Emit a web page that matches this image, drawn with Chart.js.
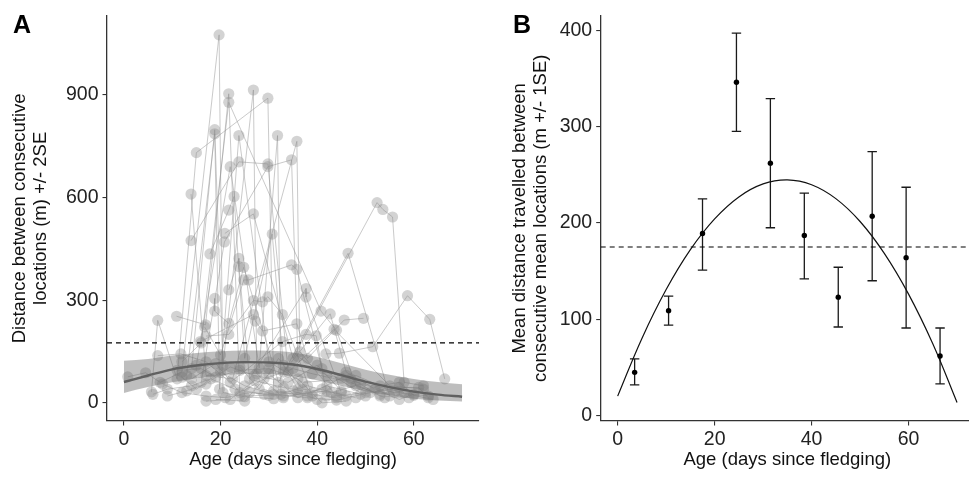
<!DOCTYPE html>
<html><head><meta charset="utf-8">
<script src="https://cdn.jsdelivr.net/npm/chart.js@4.4.1/dist/chart.umd.min.js"></script>
<style>
html,body{margin:0;padding:0;background:#fff;overflow:hidden;width:969px;height:482px;}
#wrapA{position:absolute;left:0;top:0;width:490px;height:482px;}
#wrapB{position:absolute;left:500px;top:0;width:480px;height:482px;}
.lbl{position:absolute;font:bold 25px "Liberation Sans",Arial,sans-serif;line-height:25px;color:#000;}
</style></head><body>
<div id="wrapA"><canvas id="cA" width="490" height="482"></canvas></div>
<div id="wrapB"><canvas id="cB" width="480" height="482"></canvas></div>
<div class="lbl" style="left:13px;top:12px">A</div>
<div class="lbl" style="left:513px;top:12px">B</div>
<script>
// ---------- Panel A data ----------
const xTicks = [0, 20, 40, 60];
const yTicksA = [0, 300, 600, 900];
const yTicksB = [0, 100, 200, 300, 400];
const thresholdDist = 175;

const birdAges = [
  [0.8, 4.5, 7.5, 12, 19.7, 20.5, 25, 31],
  [5.7, 7, 11, 15, 29.8, 31, 38],
  [10.9, 16.9, 21.7, 24, 30, 36, 44],
  [12, 16, 21.7, 40.8, 44, 48, 53],
  [14, 18.8, 20.5, 26.8, 27.5, 33, 41],
  [13, 18.8, 19.8, 23.8, 30, 37, 47],
  [15, 22, 28, 31.8, 32.5, 38, 46],
  [13.9, 17, 22.5, 35.8, 36.4, 44, 50],
  [13.9, 23.8, 29.8, 34, 43.5, 55, 62],
  [16, 20.8, 29.8, 34.7, 36, 42, 58],
  [17.8, 21.7, 22.8, 25, 30.7, 33, 36],
  [20.9, 26.8, 35, 52.4, 53.6, 55.6, 58, 62],
  [18.8, 18.8, 21.7, 24.8, 32, 46.4, 55],
  [21.7, 23.8, 23.8, 26, 37.7, 37.7, 45],
  [16.7, 20, 24.8, 25.8, 34.7, 35.8, 41, 50],
  [17, 21.7, 26.8, 28.7, 29.8, 32.8, 39],
  [15.8, 26.8, 27.2, 28.7, 35.8, 38, 45.6, 49.6],
  [7, 11.8, 17, 22, 32.8, 37.7, 39.8, 42],
  [41.8, 44.6, 51.5, 58.7, 63.3, 66.4],
  [33, 42.7, 46, 52, 57, 60],
  [8, 12, 17, 21, 26, 33, 42, 48],
  [6, 9, 14, 18, 23, 29, 35, 40],
  [11, 16, 19, 24, 30, 36, 41, 46],
  [12, 15, 20, 25, 31, 38, 44, 51],
  [9, 13, 17, 22, 27, 34, 40, 45],
  [14, 19, 24, 29, 35, 39, 47, 54],
  [17, 22, 27, 33, 39, 46, 53, 59],
  [24, 28, 32, 37, 43, 49, 56, 63],
  [19, 25, 30, 36, 42, 49, 57, 61, 63],
  [45, 48, 53, 57, 60, 64]
];
const birdDistances = [
  [76, 88, 60, 90, 1075, 30, 18, 12],
  [32, 241, 70, 731, 890, 35, 20],
  [253, 228, 903, 20, 22, 30, 15],
  [120, 175, 878, 268, 212, 50, 25],
  [100, 798, 110, 914, 85, 15, 40],
  [80, 786, 40, 781, 120, 60, 70],
  [110, 690, 102, 781, 25, 50, 20],
  [610, 80, 70, 764, 150, 20, 30],
  [474, 704, 698, 90, 215, 50, 40],
  [60, 470, 690, 710, 135, 80, 30],
  [435, 563, 603, 130, 493, 110, 40],
  [495, 552, 130, 585, 565, 543, 60, 50],
  [305, 268, 232, 396, 60, 437, 20],
  [330, 422, 398, 70, 334, 309, 30],
  [222, 140, 359, 359, 403, 390, 100, 20],
  [195, 200, 299, 295, 310, 258, 20],
  [179, 258, 239, 210, 231, 130, 242, 247],
  [138, 143, 120, 60, 179, 200, 196, 20],
  [143, 145, 164, 313, 244, 70],
  [90, 260, 90, 40, 10, 25],
  [55, 30, 20, 15, 30, 20, 35, 15],
  [25, 40, 50, 70, 40, 25, 35, 10],
  [95, 100, 75, 95, 100, 70, 0, 5],
  [75, 40, 90, 50, 25, 15, 8, 30],
  [20, 35, 55, 105, 80, 60, 110, 35],
  [70, 115, 30, 70, 100, 85, 60, 15],
  [5, 10, 65, 45, 30, 80, 20, 15],
  [105, 40, 130, 40, 30, 55, 30, 20],
  [10, 5, 85, 15, 50, 25, 45, 45, 15],
  [72, 80, 50, 60, 22, 10]
];

// smoothed trend
const smoothAge  = [0, 5, 10, 15, 20, 25, 30, 35, 40, 45, 50, 55, 60, 65, 70];
const smoothMean = [61, 80, 98, 109, 116, 119, 118, 112, 99, 81, 62, 46, 33, 24, 18];
const bandHigh   = [123, 128, 138, 146, 151, 153, 152, 147, 134, 116, 97, 82, 70, 61, 54];
const bandLow    = [29, 46, 60, 72, 80, 84, 84, 78, 66, 50, 34, 22, 12, 7, 4];

// ---------- Panel B data ----------
const binAge  = [3.5, 10.5, 17.5, 24.5, 31.5, 38.5, 45.5, 52.5, 59.5, 66.5];
const binMean = [45, 109, 189, 346, 262, 187, 123, 207, 164, 62];
const binLow  = [32, 94, 151, 295, 195, 142, 92, 140, 91, 33];
const binHigh = [59, 124, 225, 397, 329, 231, 154, 274, 237, 91];
const fitAge  = [0, 5, 10, 15, 20, 25, 30, 35, 40, 45, 50, 55, 60, 65, 70];
const fitDist = [20.3, 80.2, 130.9, 172.3, 204.2, 227.0, 240.5, 244.7, 239.6, 225.2, 201.5, 168.4, 126.1, 74.6, 13.7];

// ---------- shared styling ----------
const FONT = '"Liberation Sans", Arial, Helvetica, sans-serif';
const X_MIN = -3.5, X_MAX = 73.5;

function xScale(){
  return {
    type:'linear', min:X_MIN, max:X_MAX,
    afterBuildTicks: s => { s.ticks = xTicks.map(v => ({value:v})); },
    afterFit: s => { s.height = 61; },
    grid:{display:true, drawOnChartArea:false, drawTicks:true, tickLength:4.5, color:'#333', lineWidth:1.1},
    border:{display:true, color:'#333', width:1.3},
    ticks:{color:'#222', font:{family:FONT, size:19.5}, padding:2, maxRotation:0, autoSkip:false},
    title:{display:true, text:'Age (days since fledging)', color:'#111', font:{family:FONT, size:18.5, lineHeight:1.2}, padding:{top:0, bottom:11}}
  };
}
function yScale(min, max, ticks, title, width){
  return {
    type:'linear', min, max,
    afterBuildTicks: s => { s.ticks = ticks.map(v => ({value:v})); },
    afterFit: s => { s.width = width; },
    grid:{display:true, drawOnChartArea:false, drawTicks:true, tickLength:4.5, color:'#333', lineWidth:1.1},
    border:{display:true, color:'#333', width:1.3},
    ticks:{color:'#222', font:{family:FONT, size:19.5}, padding:4, autoSkip:false},
    title:{display:true, text:title, color:'#111', font:{family:FONT, size:18.5, lineHeight:1.12}, padding:{top:10, bottom:0}}
  };
}
const baseOpts = {
  responsive:false, animation:false, events:[],
  plugins:{legend:{display:false}, tooltip:{enabled:false}}
};

// ---------- Panel A ----------
const dsA = [];
birdAges.forEach((ages, i) => {
  dsA.push({type:'line', data:ages.map((a, j) => ({x:a, y:birdDistances[i][j]})),
    borderColor:'rgba(150,150,150,0.5)', borderWidth:1, pointRadius:0, tension:0, fill:false, order:5});
});
const allPts = [];
birdAges.forEach((ages, i) => ages.forEach((a, j) => allPts.push({x:a, y:birdDistances[i][j]})));
dsA.push({type:'scatter', data:allPts, pointRadius:5.6, pointBackgroundColor:'rgba(140,140,140,0.38)',
  pointBorderWidth:0, borderWidth:0, order:4});
dsA.push({type:'line', data:smoothAge.map((a, i) => ({x:a, y:bandHigh[i]})), fill:'+1',
  backgroundColor:'rgba(100,100,100,0.42)', borderWidth:0, borderColor:'rgba(0,0,0,0)', pointRadius:0, cubicInterpolationMode:'monotone', order:3});
dsA.push({type:'line', data:smoothAge.map((a, i) => ({x:a, y:bandLow[i]})), fill:false,
  borderWidth:0, borderColor:'rgba(0,0,0,0)', pointRadius:0, cubicInterpolationMode:'monotone', order:3});
dsA.push({type:'line', data:smoothAge.map((a, i) => ({x:a, y:smoothMean[i]})), fill:false,
  borderColor:'#616161', borderWidth:2.4, pointRadius:0, cubicInterpolationMode:'monotone', order:2});
dsA.push({type:'line', data:[{x:X_MIN, y:thresholdDist}, {x:X_MAX, y:thresholdDist}], fill:false,
  borderColor:'#000', borderWidth:1.2, borderDash:[5,4], pointRadius:0, order:1});

new Chart(document.getElementById('cA'), {
  type:'scatter',
  data:{datasets:dsA},
  options:Object.assign({}, baseOpts, {
    layout:{padding:{left:0, top:13, right:11, bottom:0}},
    scales:{
      x:xScale(),
      y:yScale(-53, 1131, yTicksA, ['Distance between consecutive', 'locations (m) +/- 2SE'], 107)
    }
  })
});

// ---------- Panel B ----------
const errorBars = {
  id:'errorBars',
  beforeDatasetsDraw(chart){
    const {ctx, scales:{x, y}} = chart;
    ctx.save();
    ctx.strokeStyle = '#1a1a1a';
    ctx.lineWidth = 1.3;
    binAge.forEach((a, i) => {
      const px = x.getPixelForValue(a);
      const yl = y.getPixelForValue(binLow[i]);
      const yh = y.getPixelForValue(binHigh[i]);
      const w = 4.7;
      ctx.beginPath();
      ctx.moveTo(px, yl); ctx.lineTo(px, yh);
      ctx.moveTo(px - w, yl); ctx.lineTo(px + w, yl);
      ctx.moveTo(px - w, yh); ctx.lineTo(px + w, yh);
      ctx.stroke();
    });
    ctx.restore();
  }
};
const dsB = [
  {type:'scatter', data:binAge.map((a, i) => ({x:a, y:binMean[i]})), pointRadius:2.7,
    pointBackgroundColor:'#000', pointBorderWidth:0, order:1},
  {type:'line', data:fitAge.map((a, i) => ({x:a, y:fitDist[i]})), fill:false,
    borderColor:'#111', borderWidth:1.2, pointRadius:0, tension:0.4, order:2},
  {type:'line', data:[{x:X_MIN, y:thresholdDist}, {x:X_MAX, y:thresholdDist}], fill:false,
    borderColor:'#000', borderWidth:1.2, borderDash:[5,4], pointRadius:0, order:3}
];
new Chart(document.getElementById('cB'), {
  type:'scatter',
  data:{datasets:dsB},
  plugins:[errorBars],
  options:Object.assign({}, baseOpts, {
    layout:{padding:{left:0, top:13, right:6, bottom:0}},
    scales:{
      x:xScale(),
      y:yScale(-5.5, 415, yTicksB, ['Mean distance travelled between', 'consecutive mean locations (m +/- 1SE)'], 100.7)
    }
  })
});
</script>
</body></html>
